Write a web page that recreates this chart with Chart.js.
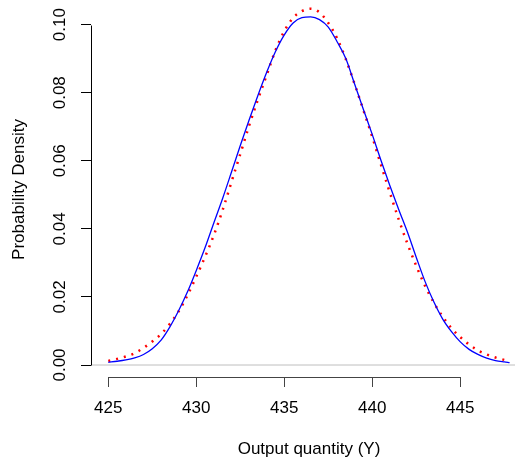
<!DOCTYPE html>
<html><head><meta charset="utf-8">
<script src="https://cdn.jsdelivr.net/npm/chart.js@4.4.1/dist/chart.umd.min.js"></script>
<style>
html,body{margin:0;padding:0;overflow:hidden;background:#fff;width:515px;height:462px}
#wrap{width:527px;height:462px}
</style></head>
<body><div id="wrap"><canvas id="c" width="527" height="462"></canvas></div>
<script>
const xTickValues = [425, 430, 435, 440, 445];
const yTickValues = [0, 0.02, 0.04, 0.06, 0.08, 0.10];
const xTitle = 'Output quantity (Y)';
const yTitle = 'Probability Density';

// blue solid curve (estimated density)
const densityX = [425, 425.5, 426, 426.5, 427, 427.5, 428, 428.5, 429, 429.5,
  430, 430.5, 431, 431.5, 432, 432.5, 433, 433.5, 434, 434.5,
  435, 435.5, 436, 436.5, 437, 437.5, 438, 438.5, 439, 439.5,
  440, 440.5, 441, 441.5, 442, 442.5, 443, 443.5, 444, 444.5,
  445, 445.5, 446, 446.5, 447, 447.5, 447.8];
const densityY = [0.0008, 0.0011, 0.0015, 0.0021, 0.0031, 0.0048, 0.0073, 0.0112, 0.0160, 0.0215,
  0.0278, 0.0345, 0.0418, 0.0490, 0.0567, 0.0645, 0.0720, 0.0792, 0.0860, 0.0921,
  0.0970, 0.1005, 0.1021, 0.1023, 0.1015, 0.0993, 0.0950, 0.0900, 0.0825, 0.0750,
  0.0677, 0.0600, 0.0527, 0.0457, 0.0390, 0.0316, 0.0245, 0.0185, 0.0135, 0.0098,
  0.0068, 0.0046, 0.0031, 0.0020, 0.0013, 0.0009, 0.0007];

// red dotted curve (normal density)
const normalX = [425, 425.5, 426, 426.5, 427, 427.5, 428, 428.5, 429, 429.5,
  430, 430.5, 431, 431.5, 432, 432.5, 433, 433.5, 434, 434.5,
  435, 435.5, 436, 436.5, 437, 437.5, 438, 438.5, 439, 439.5,
  440, 440.5, 441, 441.5, 442, 442.5, 443, 443.5, 444, 444.5,
  445, 445.5, 446, 446.5, 447, 447.5];
const normalY = [0.0012, 0.0018, 0.0025, 0.0035, 0.0050, 0.0069, 0.0091, 0.0121, 0.0158, 0.0205,
  0.0260, 0.0318, 0.0382, 0.0456, 0.0538, 0.0620, 0.0703, 0.0780, 0.0852, 0.0925,
  0.0981, 0.1020, 0.1040, 0.1047, 0.1036, 0.1005, 0.0960, 0.0898, 0.0825, 0.0748,
  0.0670, 0.0587, 0.0506, 0.0428, 0.0356, 0.0291, 0.0232, 0.0183, 0.0142, 0.0108,
  0.0082, 0.0060, 0.0043, 0.0031, 0.0022, 0.0015];

// grey horizontal reference line at zero
const zeroLineX = [424.0, 448.8];
const zeroLineY = [0, 0];

const toPoints = (xs, ys) => xs.map((x, i) => ({x: x, y: ys[i]}));

Chart.defaults.font.family = "'Liberation Sans', Arial, Helvetica, sans-serif";
Chart.defaults.color = '#000';

const axisLines = {
  id: 'axisLines',
  afterDraw(chart) {
    const {ctx, scales: {x, y}, chartArea} = chart;
    ctx.save();
    ctx.lineWidth = 1;
    // y axis from first to last tick
    ctx.strokeStyle = '#000';
    const ax = Math.round(chartArea.left) + 0.5;
    ctx.beginPath();
    ctx.moveTo(ax, Math.round(y.getPixelForValue(yTickValues[0])) + 0.5);
    ctx.lineTo(ax, Math.round(y.getPixelForValue(yTickValues[yTickValues.length - 1])) + 0.5);
    ctx.stroke();
    // x axis from first to last tick
    ctx.strokeStyle = '#444';
    const ay = Math.round(chartArea.bottom) + 0.5;
    ctx.beginPath();
    ctx.moveTo(Math.round(x.getPixelForValue(xTickValues[0])) + 0.5, ay);
    ctx.lineTo(Math.round(x.getPixelForValue(xTickValues[xTickValues.length - 1])) + 0.5, ay);
    ctx.stroke();
    ctx.restore();
  }
};

new Chart(document.getElementById('c'), {
  type: 'line',
  data: {
    datasets: [
      {label: 'zero', data: toPoints(zeroLineX, zeroLineY), borderColor: '#bebebe', borderWidth: 1, pointRadius: 0},
      {label: 'Density', data: toPoints(densityX, densityY), borderColor: '#0000ff', borderWidth: 1.3,
        pointRadius: 0, cubicInterpolationMode: 'monotone'},
      {label: 'Normal', data: toPoints(normalX, normalY), borderColor: '#ff0000', borderWidth: 2.5,
        borderDash: [2, 6], pointRadius: 0, cubicInterpolationMode: 'monotone'}
    ]
  },
  options: {
    responsive: false,
    animation: false,
    devicePixelRatio: 1,
    layout: {padding: {top: 2, left: 0, right: 0, bottom: 0}},
    plugins: {legend: {display: false}, tooltip: {enabled: false}},
    scales: {
      x: {
        type: 'linear', position: 'bottom', min: 424.017, max: 448.79,
        afterBuildTicks: s => { s.ticks = xTickValues.map(v => ({value: v})); },
        afterFit: s => { s.height = 85; s.paddingLeft = 0; s.paddingRight = 0; },
        grid: {drawOnChartArea: false, drawTicks: true, tickLength: 10, color: '#444', lineWidth: 1},
        border: {display: false},
        ticks: {padding: 11, color: '#000', font: {size: 17}, maxRotation: 0, autoSkip: false,
          callback: v => String(v)},
        title: {display: true, text: xTitle, color: '#000', font: {size: 17}, padding: {top: 0, bottom: 2}}
      },
      y: {
        type: 'linear', position: 'left', min: -0.003526, max: 0.10667,
        afterBuildTicks: s => { s.ticks = yTickValues.map(v => ({value: v})); },
        afterFit: s => { s.width = 91; s.paddingTop = 0; s.paddingBottom = 0; },
        grid: {drawOnChartArea: false, drawTicks: true, tickLength: 10, color: '#000', lineWidth: 1},
        border: {display: false},
        ticks: {minRotation: 90, maxRotation: 90, crossAlign: 'center', padding: 4, color: '#000',
          font: {size: 17}, autoSkip: false, callback: v => Number(v).toFixed(2)},
        title: {display: true, text: yTitle, color: '#000', font: {size: 17}, padding: {top: 9, bottom: 0}}
      }
    }
  },
  plugins: [axisLines]
});
</script>
</body></html>
